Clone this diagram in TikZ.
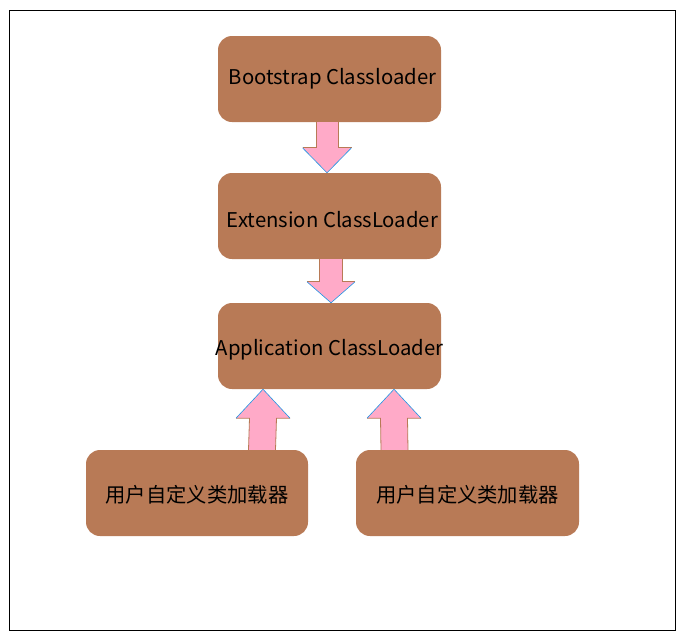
\documentclass[tikz,border=0pt]{standalone}
\usepackage{fontspec}
\setmainfont{Noto Sans CJK SC}
\usetikzlibrary{calc}
\definecolor{boxbrown}{HTML}{B87A56}
\definecolor{arrpink}{HTML}{FFAAC8}
\definecolor{arrblue}{HTML}{1E96E6}
\newcommand\blockarr[5]{%
  % #1 start, #2 tip, #3 shaft half width, #4 head half width, #5 signed head length
  \fill[arrpink] ($(#1)+(-#3,0)$) -- ($(#1)+(#3,0)$) -- ($(#2)+(#3,#5)$) -- ($(#2)+(#4,#5)$) -- (#2) -- ($(#2)+(-#4,#5)$) -- ($(#2)+(-#3,#5)$) -- cycle;
  \draw[boxbrown,line width=0.8pt] ($(#1)+(-#3,0)$) -- ($(#2)+(-#3,#5)$) -- ($(#2)+(-#4,#5)$);
  \draw[boxbrown,line width=0.8pt] ($(#1)+(#3,0)$) -- ($(#2)+(#3,#5)$) -- ($(#2)+(#4,#5)$);
  \draw[arrblue,line width=0.6pt] ($(#2)+(-#4,#5)$) -- (#2) -- ($(#2)+(#4,#5)$);
}
% #1 horizontal shift, #2 downward shift, #3 text
\newcommand\placed[3]{\raisebox{-#2pt}[15pt][4pt]{\makebox[0pt]{\hspace{#1pt}\hspace{#1pt}#3}}}
\begin{document}
\begin{tikzpicture}[x=1pt,y=1pt,
  box/.style={fill=boxbrown,rounded corners=14pt,minimum width=223pt,minimum height=86pt,
    inner sep=0pt,font=\fontsize{20.3}{24}\selectfont,text=black}]
\useasboundingbox (0,0) rectangle (683,-635);
\draw[line width=1pt] (9.5,-10.5) rectangle (675.5,-630.5);
\node[box] (boot) at (329.5,-79) {\placed{3}{-0.5}{Bootstrap Classloader}};
\node[box] (ext) at (329.5,-216) {\placed{3}{5.5}{Extension ClassLoader}};
\node[box] (app) at (329.5,-346) {\placed{0}{3.5}{Application ClassLoader}};
\node[box,minimum width=222pt] (u1) at (197,-493) {\placed{0}{3.5}{用户自定义类加载器}};
\node[box] (u2) at (467.5,-493) {\placed{0}{3.5}{用户自定义类加载器}};
\coordinate (a1s) at ($(boot.south)+(-2.5,0)$);
\coordinate (a1e) at ($(ext.north)+(-2.5,0)$);
\coordinate (a2s) at ($(ext.south)+(1.5,0)$);
\coordinate (a2e) at ($(app.north)+(1.5,0)$);
\coordinate (a3s) at ($(u1.north)+(65,0)$);
\coordinate (a3e) at ($(app.south)+(-66.5,0)$);
\coordinate (a4s) at ($(u2.north)+(-73,0)$);
\coordinate (a4e) at ($(app.south)+(64.5,0)$);
\blockarr{a1s}{a1e}{11}{24.5}{25}
\blockarr{a2s}{a2e}{11.5}{24}{21}
\blockarr{a3s}{a3e}{13.5}{27}{-29}
\blockarr{a4s}{a4e}{13.5}{27}{-29}
\end{tikzpicture}
\end{document}
